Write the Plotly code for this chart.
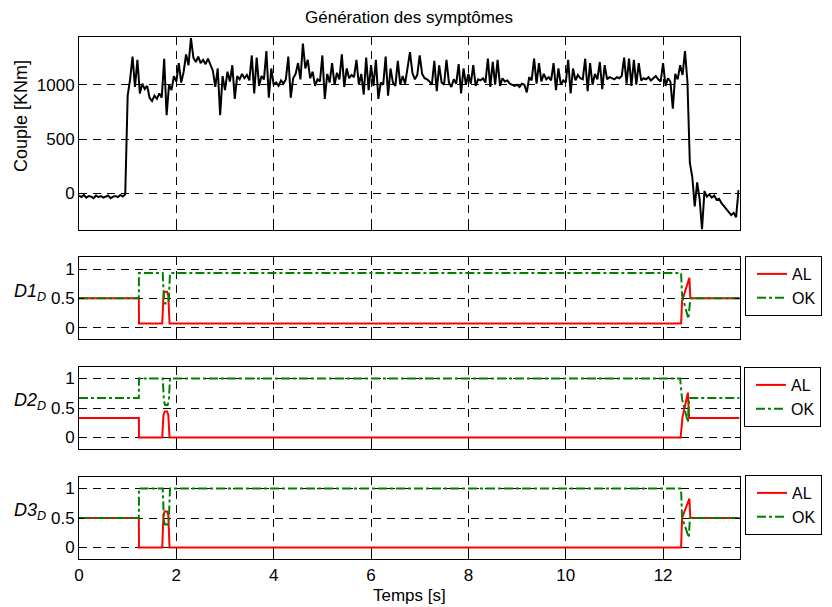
import numpy as np
import plotly.graph_objects as go

# The page body adds an 8px margin; the figure is sized so the visible window is 832x607.
WIN_W, WIN_H = 832, 607
OFF = 8
W, H = WIN_W - OFF, WIN_H - OFF
FONT = "Liberation Sans, Arial, sans-serif"

# ---------------- data ----------------
t_step = 0.05
couple = [
    # 0.00 - 0.95
    -20, -35, -15, -40, -25, -30, -45, -20, -35, -25, -40, -30, -20, -45, -30, -25, -35, -15, -30, -10,
    # 1.00 - 1.95
    900, 1050, 1260, 980, 1230, 920, 1010, 960, 990, 880, 850, 900, 870, 920, 880, 1240, 720, 1000, 950, 1080,
    # 2.00 - 2.95
    1030, 1200, 1020, 1120, 1280, 1180, 1430, 1250, 1210, 1260, 1200, 1230, 1190, 1240, 1180, 1130, 980, 1150, 720, 1080,
    # 3.00 - 3.95
    950, 1120, 1030, 1180, 870, 1080, 1050, 1100, 1060, 1090, 1040, 1270, 920, 1250, 990, 1080, 1050, 1310, 880, 1150,
    # 4.00 - 4.95
    1000, 1020, 990, 1040, 1010, 1050, 1260, 880, 1060, 1100, 1200, 1050, 1380, 1150, 1230, 1060, 1120, 990, 1050, 1030,
    # 5.00 - 5.95
    1270, 870, 1100, 1020, 1200, 1000, 1110, 1050, 1280, 980, 1150, 1060, 1090, 1070, 1230, 1000, 1100, 910, 1250, 950,
    # 6.00 - 6.95
    1180, 990, 1230, 870, 1020, 1000, 1260, 900, 1150, 1020, 990, 1220, 1000, 1080, 1010, 1160, 1300, 1110, 1050, 1090,
    # 7.00 - 7.95
    1270, 1100, 1060, 1050, 1030, 1000, 1220, 940, 1180, 1020, 1000, 1230, 1020, 980, 1050, 1010, 1190, 920, 1150, 1000,
    # 8.00 - 8.95
    1100, 1010, 1180, 990, 1050, 1040, 1060, 1020, 1240, 980, 1210, 1000, 1230, 990, 1060, 1030, 1040, 1010, 1000, 990,
    # 9.00 - 9.95
    1000, 980, 1010, 1000, 930, 1070, 1040, 1240, 1010, 1200, 1030, 1100, 1050, 1070, 1040, 1200, 950, 1150, 1000, 1040,
    # 10.00 - 10.95
    1020, 1230, 920, 1150, 1040, 1090, 1060, 1050, 1240, 940, 1200, 1000, 1100, 1050, 1210, 960, 1180, 1050, 1070, 1060,
    # 11.00 - 11.95
    1050, 1070, 1060, 1080, 1250, 1010, 1240, 990, 1230, 1000, 1200, 1040, 1060, 1050, 1070, 1040, 1060, 1080, 1050, 1030,
    # 12.00 - 12.95
    1200, 990, 1060, 1030, 780, 1100, 1050, 1180, 1090, 1310, 1030, 280, 150, -120, 100, -50, -330, 20, -30, -10,
    # 13.00 - 13.55
    -40, -20, -60, -50, -90, -120, -150, -170, -200, -180, -220, 30,
]
t_couple = np.arange(len(couple)) * t_step

d1_al_t = [0, 1.23, 1.232, 1.71, 1.735, 1.76, 1.81, 1.835, 1.86, 12.37, 12.39, 12.54, 12.56, 13.57]
d1_al_v = [0.5, 0.5, 0.07, 0.07, 0.55, 0.61, 0.61, 0.55, 0.07, 0.07, 0.45, 0.85, 0.5, 0.5]
d1_ok_t = [0, 1.23, 1.232, 1.72, 1.745, 1.77, 1.82, 1.845, 1.87, 12.37, 12.39, 12.52, 12.56, 13.57]
d1_ok_v = [0.5, 0.5, 0.93, 0.93, 0.47, 0.41, 0.41, 0.47, 0.93, 0.93, 0.55, 0.15, 0.5, 0.5]

d2_al_t = [0, 1.23, 1.232, 1.71, 1.735, 1.76, 1.81, 1.835, 1.86, 12.36, 12.40, 12.51, 12.535, 13.57]
d2_al_v = [0.33, 0.33, 0, 0, 0.38, 0.44, 0.44, 0.38, 0, 0, 0.35, 0.76, 0.33, 0.33]
d2_ok_t = [0, 1.23, 1.232, 1.72, 1.745, 1.77, 1.82, 1.845, 1.87, 12.35, 12.39, 12.51, 12.535, 13.57]
d2_ok_v = [0.67, 0.67, 1, 1, 0.62, 0.55, 0.55, 0.62, 1, 1, 0.65, 0.26, 0.67, 0.67]

d3_al_t = [0, 1.23, 1.232, 1.71, 1.735, 1.76, 1.81, 1.835, 1.86, 12.37, 12.39, 12.54, 12.56, 13.57]
d3_al_v = [0.5, 0.5, 0, 0, 0.55, 0.61, 0.61, 0.55, 0, 0, 0.5, 0.83, 0.5, 0.5]
d3_ok_t = [0, 1.23, 1.232, 1.72, 1.745, 1.77, 1.82, 1.845, 1.87, 12.37, 12.39, 12.53, 12.55, 13.57]
d3_ok_v = [0.5, 0.5, 1, 1, 0.45, 0.39, 0.39, 0.45, 1, 1, 0.5, 0.17, 0.5, 0.5]

x_ticks = [0, 2, 4, 6, 8, 10, 12]
couple_ticks = [0, 500, 1000]
d_ticks = [0, 0.5, 1]
d_tick_text = ["0", "0.5", "1"]

# ---------------- figure ----------------
fig = go.Figure()
RED = "#ff0000"
GREEN = "#008000"

fig.add_trace(go.Scatter(x=t_couple, y=couple, mode="lines", line=dict(color="black", width=2),
                         xaxis="x", yaxis="y", showlegend=False))

series = [
    (d1_al_t, d1_al_v, d1_ok_t, d1_ok_v, "x2", "y2", "legend"),
    (d2_al_t, d2_al_v, d2_ok_t, d2_ok_v, "x3", "y3", "legend2"),
    (d3_al_t, d3_al_v, d3_ok_t, d3_ok_v, "x4", "y4", "legend3"),
]
for at, av, ot, ov, xa, ya, lg in series:
    fig.add_trace(go.Scatter(x=at, y=av, mode="lines", name="AL",
                             line=dict(color=RED, width=2), xaxis=xa, yaxis=ya, legend=lg))
    fig.add_trace(go.Scatter(x=ot, y=ov, mode="lines", name="OK",
                             line=dict(color=GREEN, width=2, dash="dashdot"), xaxis=xa, yaxis=ya, legend=lg))

def px_x(p):
    return (p - OFF) / W

def px_y(p):
    return 1 - (p - OFF) / H

xdom = [px_x(79), px_x(739.5)]
ydoms = [
    [px_y(230), px_y(37)],
    [px_y(339.3), px_y(257.3)],
    [px_y(449.3), px_y(366.7)],
    [px_y(559.3), px_y(476.7)],
]

axis_common = dict(showline=True, linecolor="black", linewidth=1, mirror="ticks",
                   ticks="inside", ticklen=5, tickwidth=1, tickcolor="black",
                   showgrid=True, gridcolor="black", gridwidth=1, griddash="8px,6px",
                   zeroline=False, tickfont=dict(family=FONT, size=17, color="black"))

layout = dict(width=W, height=H, margin=dict(l=0, r=0, t=0, b=0, autoexpand=False),
              paper_bgcolor="white", plot_bgcolor="white",
              font=dict(family=FONT, size=16, color="black"))

for i in range(4):
    xname = "xaxis" if i == 0 else f"xaxis{i+1}"
    yname = "yaxis" if i == 0 else f"yaxis{i+1}"
    yref = "y" if i == 0 else f"y{i+1}"
    xref = "x" if i == 0 else f"x{i+1}"
    layout[xname] = dict(axis_common, domain=xdom, anchor=yref, range=[0, 13.57],
                         tickvals=x_ticks, showticklabels=(i == 3))
    if i == 0:
        layout[yname] = dict(axis_common, domain=ydoms[i], anchor=xref, range=[-338, 1440],
                             tickvals=couple_ticks)
    else:
        layout[yname] = dict(axis_common, domain=ydoms[i], anchor=xref, range=[-0.2, 1.2],
                             tickvals=d_ticks, ticktext=d_tick_text)

leg_common = dict(xanchor="left", yanchor="top", bgcolor="white", bordercolor="black",
                  borderwidth=1, indentation=6, font=dict(family=FONT, size=16, color="black"))
layout["legend"] = dict(leg_common, x=px_x(745), y=px_y(256))
layout["legend2"] = dict(leg_common, x=px_x(744), y=px_y(367))
layout["legend3"] = dict(leg_common, x=px_x(745), y=px_y(475))

annotations = [
    dict(text="Génération des symptômes", x=px_x(409), y=px_y(17), xref="paper", yref="paper",
         showarrow=False, xanchor="center", yanchor="middle", font=dict(family=FONT, size=17)),
    dict(text="Temps [s]", x=px_x(409), y=px_y(595), xref="paper", yref="paper",
         showarrow=False, xanchor="center", yanchor="middle", font=dict(family=FONT, size=17)),
    dict(text="Couple [KNm]", x=px_x(21), y=px_y(116), xref="paper", yref="paper", textangle=-90,
         showarrow=False, xanchor="center", yanchor="middle", font=dict(family=FONT, size=18)),
]
for lbl, ypx in [("D1", 292), ("D2", 401), ("D3", 511)]:
    annotations.append(dict(text=f"<i>{lbl}<sub>D</sub></i>", x=px_x(12), y=px_y(ypx),
                            xref="paper", yref="paper", showarrow=False, xanchor="left",
                            yanchor="middle", font=dict(family=FONT, size=18)))
layout["annotations"] = annotations

fig.update_layout(**layout)
fig.write_html("out.html")
